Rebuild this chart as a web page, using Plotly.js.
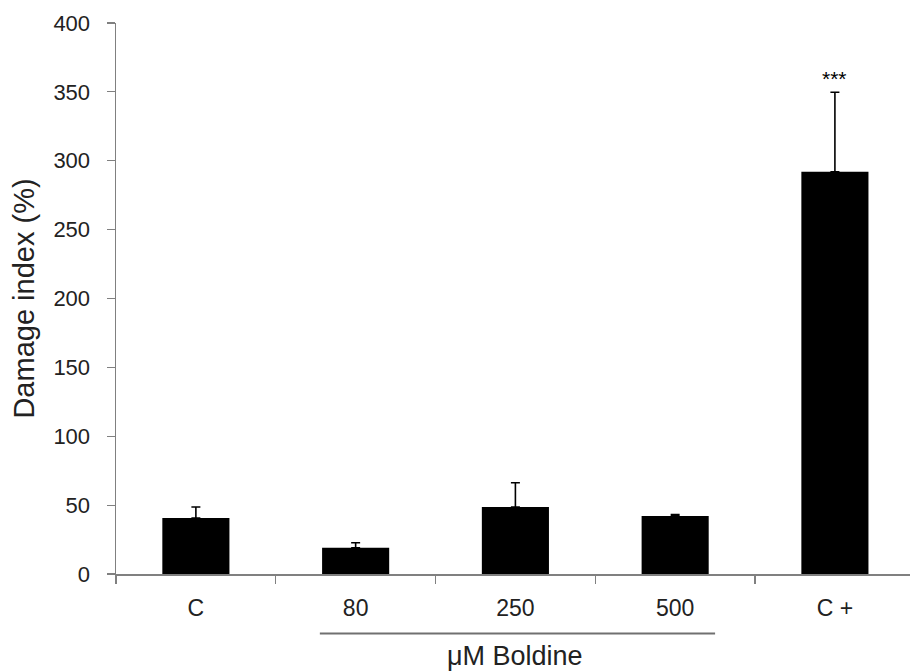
<!DOCTYPE html>
<html>
<head>
<meta charset="utf-8">
<script src="https://cdn.plot.ly/plotly-3.0.1.min.js"></script>
<style>html,body{margin:0;padding:0;background:#fff;}#chart{width:910px;height:672px;}</style>
</head>
<body>
<div id="chart"></div>
<script>
const categories = ["C", "80", "250", "500", "C +"];
const damageIndex = [40.6, 19.1, 48.6, 42.1, 292];
const errorUpper = [8.0, 3.6, 17.6, 1.1, 57.7];
const yTicks = [0, 50, 100, 150, 200, 250, 300, 350, 400];
const groupLabel = "μM Boldine";
const signifLabel = "***";

const FONT = "Liberation Sans, Arial, sans-serif";
const TXT = "#222222";
const trace = {
  type: "bar",
  x: categories,
  y: damageIndex,
  width: 0.42,
  marker: {color: "#000000", line: {width: 0}},
  error_y: {type: "data", symmetric: false, array: errorUpper, arrayminus: errorUpper.map(() => 0),
            color: "#000000", thickness: 1.6, width: 4.5},
  hoverinfo: "none"
};

const layout = {
  width: 910, height: 672,
  margin: {l: 116, r: 0, t: 23, b: 98},
  paper_bgcolor: "#ffffff", plot_bgcolor: "#ffffff",
  showlegend: false,
  font: {family: FONT, size: 23, color: TXT},
  xaxis: {
    type: "category", range: [-0.5, 4.47],
    showline: true, linecolor: "#808080", linewidth: 1.5,
    ticks: "outside", tickson: "boundaries", ticklen: 8, tickcolor: "#808080", tickwidth: 1.2,
    showgrid: false, zeroline: false, fixedrange: true,
    tickfont: {family: FONT, size: 23, color: TXT},
    ticklabelstandoff: 13
  },
  yaxis: {
    range: [0, 400], tickvals: yTicks, ticktext: yTicks.map(String),
    showline: true, linecolor: "#808080", linewidth: 1.5,
    ticks: "outside", ticklen: 8, tickcolor: "#808080", tickwidth: 1.2,
    showgrid: false, zeroline: false, fixedrange: true,
    tickfont: {family: FONT, size: 22, color: TXT},
    ticklabelstandoff: 12,
    title: {text: "Damage index (%)", font: {family: FONT, size: 29, color: TXT}, standoff: 10}
  },
  shapes: [{
    type: "line", xref: "x", yref: "paper", x0: 0.776, x1: 3.25, y0: -0.108, y1: -0.108,
    line: {color: "#707070", width: 2}
  }],
  annotations: [
    {text: groupLabel, xref: "x", yref: "paper", x: 2, y: -0.148, showarrow: false,
     xanchor: "center", yanchor: "middle", font: {family: FONT, size: 27, color: TXT}},
    {text: signifLabel, xref: "x", yref: "y", x: 4, y: 360, showarrow: false,
     xanchor: "center", yanchor: "middle", font: {family: FONT, size: 21, color: "#000000"}}
  ]
};

Plotly.newPlot("chart", [trace], layout, {staticPlot: true, displayModeBar: false});
</script>
</body>
</html>
